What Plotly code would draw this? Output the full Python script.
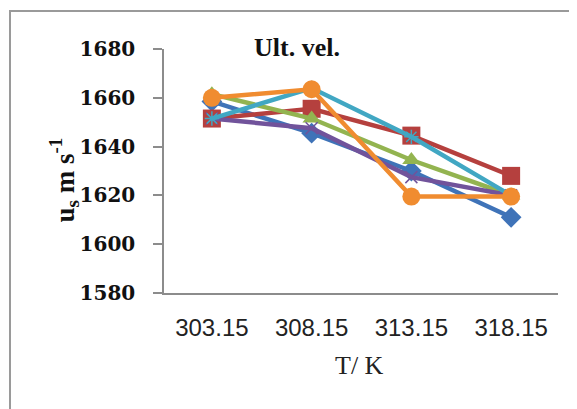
import plotly.graph_objects as go

categories = ["303.15", "308.15", "313.15", "318.15"]

series_names = ["S1", "S2", "S3", "S4", "S5", "S6"]
s1 = [1658.5, 1645.5, 1630.0, 1611.0]   # blue diamonds
s2 = [1651.5, 1655.5, 1644.5, 1628.0]   # red squares
s3 = [1661.5, 1651.5, 1634.5, 1620.0]   # green triangles
s4 = [1651.5, 1647.5, 1627.5, 1620.0]   # purple x
s5 = [1651.5, 1664.0, 1644.0, 1620.0]   # cyan star
s6 = [1660.0, 1663.5, 1619.5, 1619.5]   # orange circles

y_ticks = [1580, 1600, 1620, 1640, 1660, 1680]

colors = ["#3F73B8", "#B5403E", "#93B450", "#71539B", "#41A7C3", "#F08C30"]
symbols = ["diamond", "square", "triangle-up", "x-thin", "asterisk", "circle"]
sizes = [16, 18, 16, 12, 12, 18]
data = [s1, s2, s3, s4, s5, s6]

fig = go.Figure()
for name, vals, c, sym, sz in zip(series_names, data, colors, symbols, sizes):
    marker = dict(symbol=sym, size=sz, color=c)
    if sym in ("x-thin", "asterisk"):
        marker["line"] = dict(color=c, width=1.5)
    fig.add_trace(go.Scatter(
        x=categories, y=vals, mode="lines+markers", name=name,
        line=dict(color=c, width=4.5), marker=marker, showlegend=False,
    ))

# page has an 8px body margin; margins compensate so the plot lands where the reference has it
fig.update_layout(
    width=577, height=409,
    margin=dict(l=156, r=27, t=41, b=124),
    paper_bgcolor="white", plot_bgcolor="white",
    showlegend=False,
    xaxis=dict(
        type="category", range=[-0.48, 3.47],
        showgrid=False, zeroline=False,
        showline=True, linecolor="#8c8c8c", linewidth=1.5,
        ticks="", ticklabelstandoff=12,
        tickfont=dict(family="Liberation Sans", size=24, color="#222222"),
    ),
    yaxis=dict(
        range=[1580, 1680], tickvals=y_ticks,
        showgrid=False, zeroline=False,
        showline=True, linecolor="#8c8c8c", linewidth=1.5,
        ticks="outside", ticklen=9, tickcolor="#8c8c8c", tickwidth=1.5,
        ticklabelstandoff=14,
        tickfont=dict(family="DejaVu Serif", size=20, color="#111111", weight="bold"),
    ),
    annotations=[
        dict(text="Ult. vel.", xref="paper", yref="paper", x=0.338, y=1.005,
             xanchor="center", yanchor="middle", showarrow=False,
             font=dict(family="Liberation Serif", size=26, color="#111111", weight="bold")),
        dict(text="T/ K", xref="paper", yref="paper", x=0.497, y=-0.297,
             xanchor="center", yanchor="middle", showarrow=False,
             font=dict(family="Liberation Serif", size=26, color="#222222")),
        dict(text="u<sub>s</sub> m s<sup>-1</sup>", xref="paper", yref="paper",
             x=-0.254, y=0.465, xanchor="center", yanchor="middle", textangle=-90,
             showarrow=False,
             font=dict(family="Liberation Serif", size=27, color="#111111", weight="bold")),
    ],
    shapes=[
        dict(type="rect", xref="paper", yref="paper",
             x0=(2 - 156) / 394, x1=1.2, y0=-0.7, y1=(409 - 124 - 3) / 244,
             line=dict(color="#9a9a9a", width=2), fillcolor="rgba(0,0,0,0)", layer="below"),
    ],
)

fig.write_html("out.html")
